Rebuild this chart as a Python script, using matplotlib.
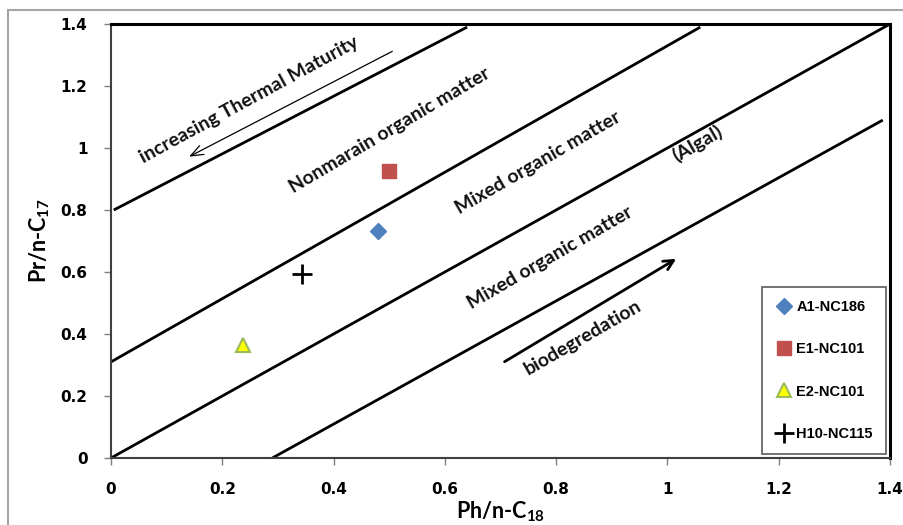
import matplotlib
matplotlib.use("Agg")
import matplotlib.pyplot as plt
from matplotlib.lines import Line2D

plt.rcParams['mathtext.fontset'] = 'custom'
plt.rcParams['mathtext.rm'] = 'Lato:bold'
plt.rcParams['mathtext.it'] = 'Lato:bold'
plt.rcParams['mathtext.bf'] = 'Lato:bold'

# ---- data ----
samples = ["A1-NC186", "E1-NC101", "E2-NC101", "H10-NC115"]
ph_c18 = [0.48, 0.50, 0.237, 0.343]
pr_c17 = [0.732, 0.926, 0.365, 0.594]

# boundary lines (x endpoints, y endpoints)
line1_x = [0.005, 0.64]
line1_y = [0.80, 1.39]
line2_x = [0.0, 1.059]
line2_y = [0.31, 1.39]
line3_x = [0.0, 1.40]
line3_y = [0.0, 1.40]
line4_x = [0.29, 1.387]
line4_y = [0.0, 1.09]

xticks = [0, 0.2, 0.4, 0.6, 0.8, 1, 1.2, 1.4]
yticks = [0, 0.2, 0.4, 0.6, 0.8, 1, 1.2, 1.4]
xtick_labels = ["0", "0.2", "0.4", "0.6", "0.8", "1", "1.2", "1.4"]
ytick_labels = ["0", "0.2", "0.4", "0.6", "0.8", "1", "1.2", "1.4"]

fig = plt.figure(figsize=(9.04, 5.25), dpi=100)
ax = fig.add_axes([111/904, 1-458/525, 779/904, 434/525])

# outer frame (gray) like the chart area
fig.add_artist(Line2D([8/904, 8/904], [0, 1-10/525], transform=fig.transFigure, color='#a6a6a6', lw=1.5))
fig.add_artist(Line2D([8/904, 1], [1-10/525, 1-10/525], transform=fig.transFigure, color='#a6a6a6', lw=1.5))

for lx, ly in [(line1_x, line1_y), (line2_x, line2_y), (line3_x, line3_y), (line4_x, line4_y)]:
    ax.plot(lx, ly, color='black', lw=2, solid_capstyle='butt', zorder=2)

# markers
styles = [
    dict(marker='D', color='#4F81BD', markeredgecolor='#4F81BD', markersize=8),
    dict(marker='s', color='#C0504D', markeredgecolor='#C0504D', markersize=10),
    dict(marker='^', color='#FFFF00', markeredgecolor='#9BBB59', markersize=10, markeredgewidth=1.5),
    dict(marker='+', color='black', markeredgecolor='black', markersize=14, markeredgewidth=2),
]
for name, x, y, st in zip(samples, ph_c18, pr_c17, styles):
    ax.plot([x], [y], linestyle='none', label=name, zorder=4, **st)

ax.set_xlim(0, 1.4)
ax.set_ylim(0, 1.4)
ax.set_xticks(xticks)
ax.set_yticks(yticks)
ax.set_xticklabels(xtick_labels)
ax.set_yticklabels(ytick_labels)
for lab in ax.get_xticklabels() + ax.get_yticklabels():
    lab.set_fontfamily('DejaVu Sans')
    lab.set_fontweight('bold')
    lab.set_fontsize(11)
ax.tick_params(axis='x', direction='out', length=5, width=1, color='#808080', pad=12)
ax.tick_params(axis='y', direction='out', length=5, width=1, color='#808080', pad=12)

ax.spines['left'].set_color('#404040')
ax.spines['bottom'].set_color('#404040')
ax.spines['left'].set_linewidth(1.5)
ax.spines['bottom'].set_linewidth(1.5)
ax.spines['top'].set_linewidth(2.2)
ax.spines['right'].set_linewidth(2.2)

ax.set_xlabel('Ph/n-C$_{18}$', fontsize=15.5, fontweight='bold', family='Lato', labelpad=2)
ax.set_ylabel('Pr/n-C$_{17}$', fontsize=15.5, fontweight='bold', family='Lato', labelpad=6)

tk = dict(fontsize=14, fontweight='bold', family='Lato', ha='center', va='center',
          rotation_mode='anchor', color='#111111')
ax.text(0.249, 1.157, 'increasing Thermal Maturity', rotation=28.5, **tk)
ax.text(0.50, 1.058, 'Nonmarain organic matter', rotation=30.5, **tk)
ax.text(0.767, 0.952, 'Mixed organic matter', rotation=30, **tk)
ax.text(1.053, 1.016, '(Algal)', rotation=30, **tk)
ax.text(0.789, 0.645, 'Mixed organic matter', rotation=30, **tk)
ax.text(0.848, 0.387, 'biodegredation', rotation=30, **tk)

# arrows
ax.annotate('', xy=(0.136, 0.968), xytext=(0.51, 1.316),
            arrowprops=dict(arrowstyle='->,head_length=0.9,head_width=0.35', lw=0.9, color='black'))
ax.annotate('', xy=(1.02, 0.647), xytext=(0.703, 0.306),
            arrowprops=dict(arrowstyle='->,head_length=0.7,head_width=0.35', lw=2, color='black'))

leg = ax.legend(loc='lower right', bbox_to_anchor=(0.995, 0.009), borderaxespad=0,
                frameon=True, fancybox=False,
                labelspacing=1.95, handletextpad=0.25, handlelength=1.2, borderpad=0.9,
                prop=dict(family='Liberation Sans', weight='bold', size=10.5))
leg.get_frame().set_edgecolor('#333333')
leg.get_frame().set_linewidth(1.2)

fig.savefig('out.png', dpi=100)
